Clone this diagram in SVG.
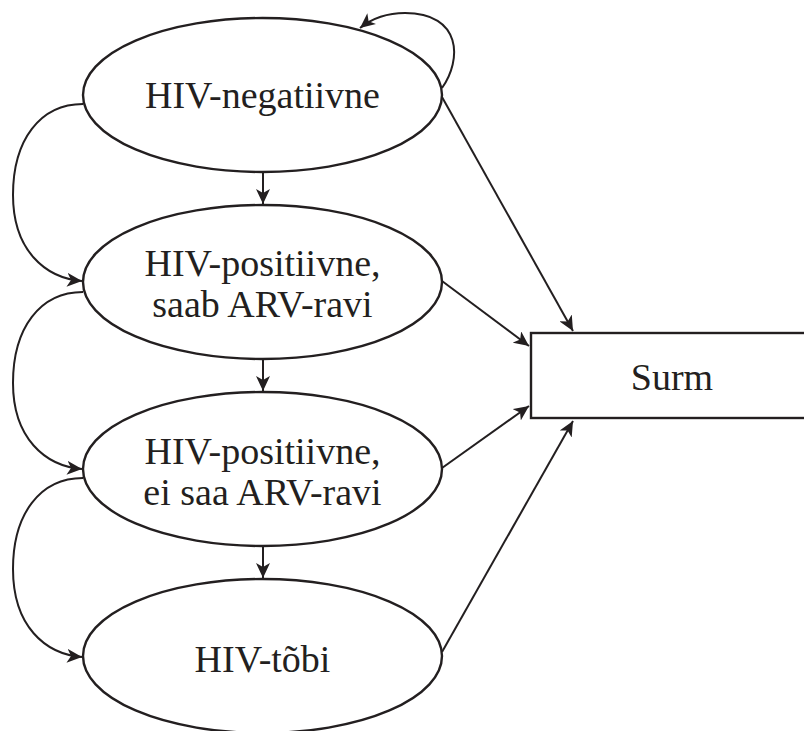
<svg xmlns="http://www.w3.org/2000/svg" width="804" height="731" viewBox="0 0 804 731">
<style>
.node{fill:#fff;stroke:#231f20;stroke-width:2.4}
.lbl{font-family:"Liberation Serif","Times New Roman",serif;font-size:38px;fill:#231f20;text-anchor:middle}
.edge{fill:none;stroke:#231f20;stroke-width:2;marker-end:url(#ah)}
</style>
<defs>
<marker id="ah" markerUnits="userSpaceOnUse" markerWidth="16" markerHeight="14" viewBox="0 0 16 14" refX="15" refY="7" orient="auto">
<path d="M0,0 L15,7 L0,14 L4,7 Z" fill="#231f20"/>
</marker>
</defs>
<rect width="804" height="731" fill="#fff"/>
<g id="connectors">
<path class="edge" d="M263,172 L263,204"/>
<path class="edge" d="M263,359 L263,391"/>
<path class="edge" d="M263,546 L263,578"/>
<path class="edge" d="M83,104 C40,104 13,140 13,195 C13,250 45,278 82,281"/>
<path class="edge" d="M83,292 C40,292 13,328 13,383 C13,438 45,466 82,469"/>
<path class="edge" d="M83,478 C40,478 13,514 13,569 C13,626 45,654 82,657"/>
<path class="edge" d="M442,88 C462,60 462,13 405,13 C385,13 370,20 360,28"/>
<path class="edge" d="M442,97 L573,331"/>
<path class="edge" d="M442,281 L529,346"/>
<path class="edge" d="M442,468 L529,406"/>
<path class="edge" d="M442,652 L573,421"/>
</g>
<g id="n1">
<ellipse class="node" cx="262.5" cy="95" rx="179.5" ry="77"/>
<text class="lbl" x="262.5" y="108">HIV-negatiivne</text>
</g>
<g id="n2">
<ellipse class="node" cx="262.5" cy="282" rx="179.5" ry="77"/>
<text class="lbl" x="262.5" y="276">HIV-positiivne,</text>
<text class="lbl" x="262.5" y="317">saab ARV-ravi</text>
</g>
<g id="n3">
<ellipse class="node" cx="262.5" cy="469" rx="179.5" ry="77"/>
<text class="lbl" x="262.5" y="464">HIV-positiivne,</text>
<text class="lbl" x="262.5" y="505">ei saa ARV-ravi</text>
</g>
<g id="n4">
<ellipse class="node" cx="262.5" cy="656" rx="179.5" ry="77"/>
<text class="lbl" x="262.5" y="672">HIV-tõbi</text>
</g>
<g id="surm">
<rect class="node" x="531" y="333" width="290" height="85"/>
<text class="lbl" x="672" y="390">Surm</text>
</g>
</svg>
